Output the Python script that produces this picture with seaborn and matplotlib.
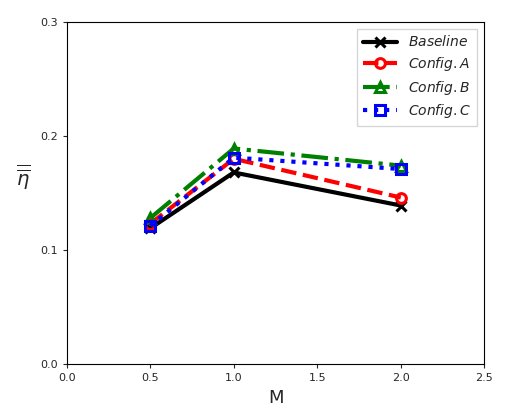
import matplotlib
matplotlib.use("Agg")
import matplotlib.pyplot as plt
import seaborn as sns
import pandas as pd

M = [0.5, 1.0, 2.0]
baseline = [0.119, 0.168, 0.139]
config_a = [0.123, 0.180, 0.146]
config_b = [0.128, 0.189, 0.174]
config_c = [0.121, 0.181, 0.171]
labels = [r"$Baseline$", r"$Config.A$", r"$Config.B$", r"$Config.C$"]

sns.set_style("white")
plt.rcParams['font.family'] = ['DejaVu Sans']
fig, ax = plt.subplots(figsize=(5.06, 4.15), dpi=100)

styles = [("black", "-", "x"), ("red", "--", "o"), ("green", "-.", "^"), ("blue", ":", "s")]
for vals, lab, (c, ls, mk) in zip([baseline, config_a, config_b, config_c], labels, styles):
    df = pd.DataFrame({"M": M, "v": vals})
    sns.lineplot(data=df, x="M", y="v", ax=ax, color=c, linestyle=ls, marker=mk,
                 linewidth=3, markersize=7, markeredgewidth=2.2,
                 markerfacecolor="none" if mk != "x" else c, markeredgecolor=c, label=lab)

ax.set_xlim(0, 2.5)
ax.set_ylim(0, 0.3)
ax.set_xticks([0, 0.5, 1.0, 1.5, 2.0, 2.5])
ax.set_yticks([0, 0.1, 0.2, 0.3])
ax.tick_params(labelsize=8, left=True, bottom=True, length=3)
for s in ax.spines.values():
    s.set_color("black"); s.set_linewidth(0.8)
ax.set_xlabel("M", fontsize=13)
ax.set_ylabel(r"$\overline{\overline{\eta}}$", fontsize=14, rotation=0, labelpad=12)
ax.legend(loc="upper right", fontsize=10, handlelength=2.5, labelspacing=0.4, frameon=True,
          fancybox=False, edgecolor="#cccccc")
fig.subplots_adjust(left=0.132, right=0.957, top=0.947, bottom=0.123)
fig.savefig("out.png", dpi=100)
